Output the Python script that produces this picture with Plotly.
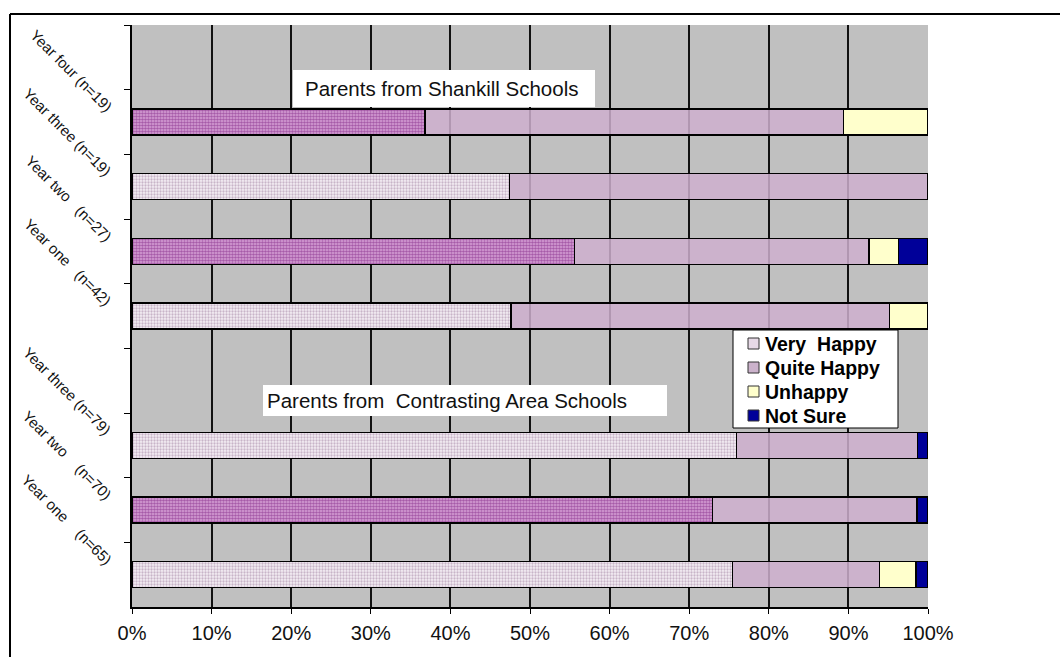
import plotly.graph_objects as go

NB = "\u00a0"

# Row order from top to bottom; blank rows separate the two school groups
rows = ["", "Year four (n=19)", "Year three (n=19)", "Year two" + NB * 2 + " (n=27)",
        "Year one" + NB * 2 + " (n=42)", " ",
        "Year three (n=79)", "Year two" + NB * 3 + " (n=70)",
        "Year one" + NB * 3 + " (n=65)"]

# Percentages of parents per response (None = no bar in that row)
very_happy  = [None, 36.8, 47.4, 55.6, 47.6, None, 75.9, 72.9, 75.4]
quite_happy = [None, 52.6, 52.6, 37.0, 47.6, None, 22.8, 25.7, 18.5]
unhappy     = [None, 10.5, 0.0, 3.7, 4.8, None, 0.0, 0.0, 4.6]
not_sure    = [None, 0.0, 0.0, 3.7, 0.0, None, 1.3, 1.4, 1.5]

legend_names = ["Very" + NB + " Happy", "Quite Happy", "Unhappy", "Not Sure"]
legend_swatch = ["#E6D9E6", "#CBB2CB", "#FFFFCC", "#000099"]

# Rows whose "Very Happy" segment uses the dense fill
dense_rows = {rows[1], rows[3], rows[7]}

x_ticks = [i / 10 for i in range(11)]

FONT = "Arial, Liberation Sans, sans-serif"
outline = dict(color="#000000", width=1.3)

# Plot area in pixels (used to place the overlay boxes)
W, H = 1062, 657
L, R, T, B = 132, 134, 25, 50
def px_x(px):
    return (px - L) / (W - L - R)
def px_y(py):
    return (H - B - py) / (H - T - B)

vh_light = [v / 100 if (v is not None and r not in dense_rows) else None
            for r, v in zip(rows, very_happy)]
vh_dense = [v / 100 if (v is not None and r in dense_rows) else None
            for r, v in zip(rows, very_happy)]

def frac(vals):
    return [None if v is None else v / 100 for v in vals]

fig = go.Figure()
fig.add_trace(go.Bar(
    y=rows, x=vh_light, orientation="h", name=legend_names[0],
    marker=dict(color="#FFFFFF", line=outline,
                pattern=dict(shape=".", fgcolor="#9C7A9C", bgcolor="#F4EEF4",
                             size=3, solidity=0.45)),
))
fig.add_trace(go.Bar(
    y=rows, x=vh_dense, orientation="h", name=legend_names[0],
    marker=dict(color="#FFFFFF", line=outline,
                pattern=dict(shape=".", fgcolor="#741078", bgcolor="#D9A6D9",
                             size=3, solidity=0.6)),
))
fig.add_trace(go.Bar(
    y=rows, x=frac(quite_happy), orientation="h", name=legend_names[1],
    marker=dict(color="rgba(206,175,206,0.85)", line=outline),
))
fig.add_trace(go.Bar(
    y=rows, x=frac(unhappy), orientation="h", name=legend_names[2],
    marker=dict(color="#FFFFCC", line=outline),
))
fig.add_trace(go.Bar(
    y=rows, x=frac(not_sure), orientation="h", name=legend_names[3],
    marker=dict(color="#000099", line=outline),
))

fig.update_layout(
    width=W, height=H,
    margin=dict(l=L, r=R, t=T, b=B),
    paper_bgcolor="#FFFFFF",
    plot_bgcolor="#C0C0C0",
    barmode="stack",
    bargap=0.6,
    font=dict(family=FONT, color="#000000"),
    showlegend=False,
)

fig.update_xaxes(
    range=[0, 1], tickvals=x_ticks, tickformat=".0%",
    showgrid=True, gridcolor="#111111", gridwidth=1.5,
    ticks="outside", ticklen=5, tickcolor="#000000",
    showline=True, linecolor="#000000", linewidth=1.5,
    tickfont=dict(size=20, color="#111111"), zeroline=False,
    ticklabelstandoff=2,
)
fig.update_yaxes(
    type="category", categoryorder="array", categoryarray=rows,
    range=[len(rows) - 0.5, -0.5],
    tickson="boundaries", ticks="outside", ticklen=6, tickcolor="#000000",
    showgrid=False, showline=True, linecolor="#000000", linewidth=1.5,
    showticklabels=False,
)

# Slanted row labels, ending just above each bar
for i, r in enumerate(rows):
    if r.strip():
        fig.add_annotation(xref="paper", yref="y", x=px_x(118), y=i,
                           yshift=4, text=r, textangle=45, showarrow=False,
                           xanchor="right", yanchor="bottom",
                           font=dict(size=15, color="#111111"))

# White caption boxes for each school group
def caption(x0, x1, y0, y1, text, pad):
    fig.add_shape(type="rect", xref="paper", yref="paper",
                  x0=px_x(x0), x1=px_x(x1), y0=px_y(y1), y1=px_y(y0),
                  fillcolor="#FFFFFF", line=dict(width=0), layer="above")
    fig.add_annotation(xref="paper", yref="paper", x=px_x(x0 + pad),
                       y=px_y((y0 + y1) / 2),
                       text=text, showarrow=False, xanchor="left", yanchor="middle",
                       font=dict(size=20.5, color="#111111"))

caption(293, 595, 70, 107, "Parents from Shankill Schools", 10)
caption(263, 667, 385, 416, "Parents from" + NB + " Contrasting Area Schools", 2)

# Legend panel
fig.add_shape(type="rect", xref="paper", yref="paper",
              x0=px_x(733), x1=px_x(898), y0=px_y(428), y1=px_y(330),
              fillcolor="#FFFFFF", line=dict(color="#000000", width=1), layer="above")
for i, (name, col) in enumerate(zip(legend_names, legend_swatch)):
    cy = 344 + i * 24
    fig.add_shape(type="rect", xref="paper", yref="paper",
                  x0=px_x(748), x1=px_x(759), y0=px_y(cy + 5), y1=px_y(cy - 6),
                  fillcolor=col, line=dict(color="#333333", width=1), layer="above")
    fig.add_annotation(xref="paper", yref="paper", x=px_x(763), y=px_y(cy),
                       text=f"<b>{name}</b>", showarrow=False,
                       xanchor="left", yanchor="middle",
                       font=dict(size=19.5, color="#000000"))

# Chart frame lines along the top and left edge
fig.add_shape(type="line", xref="paper", yref="paper",
              x0=px_x(10), x1=px_x(1060), y0=px_y(14), y1=px_y(14),
              line=dict(color="#000000", width=2))
fig.add_shape(type="line", xref="paper", yref="paper",
              x0=px_x(10), x1=px_x(10), y0=px_y(14), y1=px_y(660),
              line=dict(color="#000000", width=2))

fig.write_html("out.html")
